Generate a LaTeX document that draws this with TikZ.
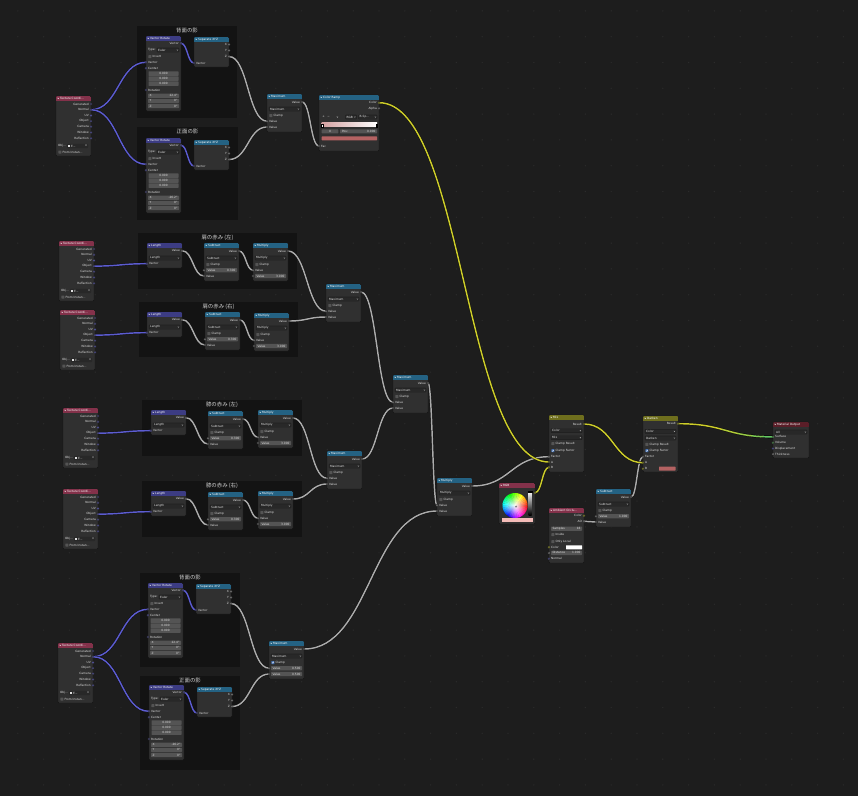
\documentclass[tikz,border=0pt]{standalone}
\usepackage{fontspec}
\setmainfont{DejaVu Sans}
\newfontfamily\jpfont{Noto Sans CJK JP}
\usetikzlibrary{calc,fadings}
\tikzfading[name=whitecentre, inner color=transparent!0, outer color=transparent!100]
\definecolor{bgc}{HTML}{1D1D1D}
\definecolor{gridc}{HTML}{2B2B2B}
\definecolor{framec}{HTML}{131313}
\definecolor{bodyc}{HTML}{303030}
\definecolor{edgec}{HTML}{141414}
\definecolor{hvec}{HTML}{3C3C83}
\definecolor{hconv}{HTML}{246283}
\definecolor{hin}{HTML}{83314A}
\definecolor{hcol}{HTML}{6E6E1D}
\definecolor{hout}{HTML}{5A1E28}
\definecolor{svec}{HTML}{6363C7}
\definecolor{sflt}{HTML}{A1A1A1}
\definecolor{scol}{HTML}{C7C729}
\definecolor{sshd}{HTML}{63C763}
\definecolor{txtc}{HTML}{E0E0E0}
\definecolor{fldc}{HTML}{545454}
\definecolor{ddc}{HTML}{282828}
\definecolor{chkon}{HTML}{4772B3}
\definecolor{lvec}{HTML}{5C5CD0}
\definecolor{lflt}{HTML}{ABABAB}
\definecolor{lcol}{HTML}{CDCD2A}
\definecolor{lshd}{HTML}{63C763}
\definecolor{rampc}{HTML}{B46262}
\definecolor{rgbsw}{HTML}{F4BCB8}
\colorlet{g1}{lcol!75!lshd}
\colorlet{g2}{lcol!50!lshd}
\colorlet{g3}{lcol!25!lshd}
\pgfdeclarelayer{frm}
\pgfdeclarelayer{lnk}
\pgfsetlayers{frm,lnk,main}
\newcounter{tn}
\tikzset{
  txt/.style={inner sep=0pt, outer sep=0pt, text=txtc, font=\fontsize{2.9}{3}\selectfont},
  nbody/.style={draw=edgec, line width=0.4pt, fill=bodyc, rounded corners=1pt, inner sep=0pt, outer sep=0pt},
  frlbl/.style={inner sep=0pt, text=black!18, font=\jpfont\fontsize{5.4}{6}\selectfont},
  link/.style={line width=1.45pt, preaction={draw=black!60!bgc, line width=2.3pt}},
}
\newcommand\tx[3][]{\stepcounter{tn}\node[txt,#1] (t\arabic{tn}) at (#2) {#3};}
\newcommand\sock[3]{\coordinate (#1) at (#2); \fill[#3, draw=black!85, line width=0.25pt] (#1) circle (1.1pt);}
\newcommand\nbox[5]{%
 \node[nbody, minimum width=#2pt, minimum height=#3pt, anchor=north west] (#1) at (0,0) {};
 \begin{scope}
  \clip[rounded corners=1pt] (0,0) rectangle (#2,#3);
  \fill[#4] (0,0) rectangle (#2,4.6);
 \end{scope}
 \draw[white, line width=0.3pt] (1.5,1.8) -- (2.3,2.7) -- (3.1,1.8);
 \tx[anchor=west,text=white]{4.2,2.35}{#5}}
\newcommand\outr[5]{\tx[anchor=east]{#2-2.2,#3}{#4}\sock{#1}{#2,#3}{#5}}
\newcommand\inr[4]{\sock{#1}{0,#2}{#4}\tx[anchor=west]{2.2,#2}{#3}}
\newcommand\ddbox[4]{% x1,x2,y,text
 \fill[ddc, draw=black!55!bodyc, line width=0.2pt, rounded corners=0.6pt] (#1,#3-2.1) rectangle (#2,#3+2.1);
 \tx[anchor=west]{#1+1.2,#3}{#4}
 \draw[txtc, line width=0.2pt] (#2-2.2,#3-0.4) -- (#2-1.6,#3+0.4) -- (#2-1,#3-0.4);}
\newcommand\dd[3]{\ddbox{2}{#2-2}{#1}{#3}}
\newcommand\fld[4]{%
 \fill[fldc, rounded corners=0.6pt] (2,#1-2.1) rectangle (#2-2,#1+2.1);
 \tx[anchor=west]{3.5,#1}{#3}
 \tx[anchor=east]{#2-3.5,#1}{#4}}
\newcommand\cfld[2]{%
 \fill[fldc, rounded corners=0.4pt] (2.5,#1-2.2) rectangle (32.5,#1+2.2);
 \tx{17.5,#1}{#2}}
\newcommand\chk[3]{%
 \ifnum#3=1
  \fill[chkon, rounded corners=0.4pt] (2.4,#1-1.5) rectangle (5.4,#1+1.5);
  \draw[white, line width=0.35pt] (3.1,#1) -- (3.7,#1+0.7) -- (4.8,#1-0.8);
 \else
  \fill[fldc, rounded corners=0.4pt] (2.4,#1-1.5) rectangle (5.4,#1+1.5);
 \fi
 \tx[anchor=west]{6.6,#1}{#2}}
\newcommand\minrow[3]{%
 \if\relax\detokenize{#3}\relax \inr{#1}{#2}{Value}{sflt}%
 \else \fld{#2}{35}{Value}{#3}\sock{#1}{0,#2}{sflt}\fi}
% node templates
\newcommand\texco[3]{\begin{scope}[shift={(#2,#3)}]
 \nbox{#1}{35}{60}{hin}{Texture Coordi...}
 \outr{#1-gen}{35}{8}{Generated}{svec}
 \outr{#1-nor}{35}{13.7}{Normal}{svec}
 \outr{#1-uv}{35}{19.4}{UV}{svec}
 \outr{#1-obj}{35}{25.1}{Object}{svec}
 \outr{#1-cam}{35}{30.8}{Camera}{svec}
 \outr{#1-win}{35}{36.5}{Window}{svec}
 \outr{#1-ref}{35}{42.2}{Reflection}{svec}
 \tx[anchor=west]{2,50}{Obj...}
 \fill[ddc, rounded corners=0.6pt] (11,47.9) rectangle (32,52.1);
 \fill[txtc] (12.3,49.1) rectangle (14.1,50.9);
 \tx[anchor=west]{15,50}{E...}
 \tx[anchor=east]{31.3,50}{×}
 \chk{56}{From Instan...}{0}
\end{scope}}
\newcommand\vrot[4]{\begin{scope}[shift={(#2,#3)}]
 \nbox{#1}{35}{75}{hvec}{Vector Rotate}
 \outr{#1-out}{35}{7.3}{Vector}{svec}
 \tx[anchor=west]{2,14}{Type:}
 \ddbox{11}{33}{14}{Euler}
 \chk{20.7}{Invert}{0}
 \inr{#1-in}{26.3}{Vector}{svec}
 \inr{#1-c}{32.3}{Center}{svec}
 \cfld{37.6}{0.000}\cfld{42.6}{0.000}\cfld{47.6}{0.000}
 \inr{#1-r}{54}{Rotation}{svec}
 \fld{59.8}{35}{X}{#4}\fld{64.9}{35}{Y}{0°}\fld{70}{35}{Z}{0°}
\end{scope}}
\newcommand\sepx[3]{\begin{scope}[shift={(#2,#3)}]
 \nbox{#1}{35}{30}{hconv}{Separate XYZ}
 \outr{#1-x}{35}{7.5}{X}{sflt}
 \outr{#1-y}{35}{13.5}{Y}{sflt}
 \outr{#1-z}{35}{19.5}{Z}{sflt}
 \inr{#1-in}{26}{Vector}{svec}
\end{scope}}
\newcommand\mathn[8]{\begin{scope}[shift={(#2,#3)}]
 \nbox{#1}{35}{38}{hconv}{#4}
 \outr{#1-out}{35}{8}{Value}{sflt}
 \dd{15}{35}{#5}
 \chk{21.5}{Clamp}{#8}
 \minrow{#1-a}{27.2}{#6}
 \minrow{#1-b}{33}{#7}
\end{scope}}
\newcommand\lenn[3]{\begin{scope}[shift={(#2,#3)}]
 \nbox{#1}{35}{25}{hvec}{Length}
 \outr{#1-out}{35}{7.7}{Value}{sflt}
 \dd{15}{35}{Length}
 \inr{#1-in}{20.7}{Vector}{svec}
\end{scope}}
\newcommand\frm[6]{\fill[framec] (#2,#3) rectangle (#4,#5);
 \node[frlbl] (#1) at ({(#2+#4)/2},#3+4.8) {#6};}
\newcommand\lnk[3]{\draw[link,#1] let \p1=(#2), \p2=(#3), \n1={0.5*abs(\x2-\x1)},
  \p3=($(\p1)+(\n1,0)$), \p4=($(\p2)+(-\n1,0)$) in (\p1) .. controls (\p3) and (\p4) .. (\p2);}
\begin{document}
\begin{tikzpicture}[x=1pt,y=-1pt]
\useasboundingbox (0,0) rectangle (858,796);
\begin{pgfonlayer}{frm}
\fill[bgc] (0,0) rectangle (858,796);
\foreach \i in {0,...,32} \foreach \j in {0,...,30}
  \fill[gridc] (17.8+\i*25.8,10.9+\j*25.8) circle (0.7pt);
\frm{f1}{137}{26}{237}{118}{背面の影}
\frm{f2}{137}{127}{238}{220}{正面の影}
\frm{f3}{138}{233}{297}{289}{肩の赤み (左)}
\frm{f4}{139}{302}{298}{357}{肩の赤み (右)}
\frm{f5}{142}{400}{302}{456}{膝の赤み (左)}
\frm{f6}{142}{481}{302}{537}{膝の赤み (右)}
\frm{f7}{140}{573}{240}{667}{背面の影}
\frm{f8}{140}{676}{240}{770}{正面の影}
\end{pgfonlayer}
% texture coordinates
\texco{tc1}{56}{96}
\texco{tc2}{59}{241}
\texco{tc3}{60}{310}
\texco{tc4}{63}{408}
\texco{tc5}{63}{489}
\texco{tc6}{58}{643}
% vector rotate / separate
\vrot{vr1}{146}{36}{22.4°}
\vrot{vr2}{146}{138}{-26.2°}
\vrot{vr7}{148}{583}{22.4°}
\vrot{vr8}{149}{685}{-26.2°}
\sepx{sx1}{194}{37}
\sepx{sx2}{194}{140}
\sepx{sx7}{196}{584}
\sepx{sx8}{197}{687}
% length / subtract / multiply
\lenn{len3}{147}{243}
\lenn{len4}{147}{312}
\lenn{len5}{151}{410}
\lenn{len6}{151}{491}
\mathn{sub3}{204}{243}{Subtract}{Subtract}{0.300}{}{0}
\mathn{sub4}{205}{312}{Subtract}{Subtract}{0.300}{}{0}
\mathn{sub5}{208}{411}{Subtract}{Subtract}{0.300}{}{0}
\mathn{sub6}{208}{492}{Subtract}{Subtract}{0.300}{}{0}
\mathn{mul3}{253}{243}{Multiply}{Multiply}{}{3.000}{0}
\mathn{mul4}{254}{313}{Multiply}{Multiply}{}{3.000}{0}
\mathn{mul5}{258}{410}{Multiply}{Multiply}{}{3.000}{0}
\mathn{mul6}{258}{491}{Multiply}{Multiply}{}{3.000}{0}
% maximum chain
\mathn{mx1}{267}{94}{Maximum}{Maximum}{}{}{0}
\mathn{mx2}{326}{284}{Maximum}{Maximum}{}{}{0}
\mathn{mx3}{393}{375}{Maximum}{Maximum}{}{}{0}
\mathn{mx4}{327}{451}{Maximum}{Maximum}{}{}{0}
\mathn{mx5}{269}{641}{Maximum}{Maximum}{0.500}{0.500}{1}
\mathn{mulc}{437}{478}{Multiply}{Multiply}{}{}{0}
\mathn{subr}{596}{489}{Subtract}{Subtract}{1.000}{}{0}
% color ramp
\begin{scope}[shift={(319,95)}]
 \nbox{cramp}{60}{56}{hconv}{Color Ramp}
 \outr{cr-col}{60}{7.7}{Color}{scol}
 \outr{cr-alp}{60}{13.2}{Alpha}{sflt}
 \tx{4.5,22}{+}
 \tx{9.5,22}{−}
 \draw[txtc, line width=0.25pt] (17.6,21.6) -- (18.3,22.4) -- (19,21.6);
 \ddbox{26.5}{37.5}{22}{RGB}
 \ddbox{39.5}{58}{22}{B-Sp...}
 \shade[left color=rampc!60!white, right color=white] (2.7,27.3) rectangle (58,31.3);
 \fill[white, draw=black, line width=0.2pt] (2.3,29.5) rectangle (3.7,32);
 \fill[white, draw=black, line width=0.2pt] (56.6,29.5) rectangle (58,32);
 \fill[fldc, rounded corners=0.5pt] (2.7,34.3) rectangle (19.3,38.3);
 \tx{11,36.3}{0}
 \fill[fldc, rounded corners=0.5pt] (21,34.3) rectangle (58,38.3);
 \tx[anchor=west]{23,36.3}{Pos:}
 \tx[anchor=east]{56.5,36.3}{0.000}
 \fill[rampc, rounded corners=0.5pt] (2.7,41.3) rectangle (58,45.3);
 \inr{cr-fac}{51}{Fac}{sflt}
\end{scope}
% RGB
\begin{scope}[shift={(499,483)}]
 \nbox{rgbn}{36}{41}{hin}{RGB}
 \sock{rgb-col}{36,9.7}{scol}
 \foreach \a in {0,10,...,350}{
   \pgfmathsetmacro\hh{mod(360-\a,360)}
   \definecolor{huec}{Hsb}{\hh,1,1}
   \fill[huec] (16,22.5) -- ++(\a:12.5) arc[start angle=\a, end angle=\a+10.6, radius=12.5] -- cycle;
 }
 \fill[white, path fading=whitecentre] (16,22.5) circle (12.5pt);
 \draw[black!60, line width=0.3pt] (17,23.5) circle (0.8pt);
 \shade[top color=white, bottom color=black] (29.5,8) rectangle (32.5,32);
 \fill[white, draw=black, line width=0.2pt] (29,8.5) rectangle (33,9.5);
 \fill[rgbsw] (2.5,34.5) rectangle (33.5,38.5);
\end{scope}
% Mix
\begin{scope}[shift={(549,415)}]
 \nbox{mixn}{35}{57}{hcol}{Mix}
 \outr{mix-res}{35}{9}{Result}{scol}
 \dd{15.7}{35}{Color}
 \dd{22.7}{35}{Mix}
 \chk{28.7}{Clamp Result}{0}
 \chk{35.7}{Clamp Factor}{1}
 \inr{mix-fac}{41.7}{Factor}{sflt}
 \inr{mix-a}{47}{A}{scol}
 \inr{mix-b}{52.3}{B}{scol}
\end{scope}
% Darken
\begin{scope}[shift={(643,416)}]
 \nbox{dkn}{35}{56}{hcol}{Darken}
 \outr{dk-res}{35}{7.7}{Result}{scol}
 \dd{15.3}{35}{Color}
 \dd{22}{35}{Darken}
 \chk{28.3}{Clamp Result}{0}
 \chk{34.7}{Clamp Factor}{1}
 \inr{dk-fac}{40.7}{Factor}{sflt}
 \inr{dk-a}{46.7}{A}{scol}
 \inr{dk-b}{52.7}{B}{scol}
 \fill[rampc, rounded corners=0.5pt] (16,50.7) rectangle (32.5,54.7);
\end{scope}
% Ambient occlusion
\begin{scope}[shift={(549,508)}]
 \nbox{aon}{35}{55}{hin}{Ambient Occlu...}
 \outr{ao-col}{35}{7.7}{Color}{scol}
 \outr{ao-ao}{35}{13.3}{AO}{sflt}
 \fld{20.7}{35}{Samples}{16}
 \chk{26.7}{Inside}{0}
 \chk{33.7}{Only Local}{0}
 \sock{ao-cin}{0,39.3}{scol}
 \tx[anchor=west]{2.2,39.3}{Color}
 \fill[white, rounded corners=0.4pt] (17,37.3) rectangle (33,41.3);
 \fld{44.9}{35}{Distance}{1.000}
 \sock{ao-dist}{0,44.9}{sflt}
 \inr{ao-nor}{50.7}{Normal}{svec}
\end{scope}
% Material output
\begin{scope}[shift={(773,422)}]
 \nbox{mato}{36}{36}{hout}{Material Output}
 \dd{10}{36}{All}
 \inr{mo-surf}{14.9}{Surface}{sshd}
 \inr{mo-vol}{20.7}{Volume}{sshd}
 \inr{mo-disp}{26.5}{Displacement}{svec}
 \inr{mo-thk}{32.1}{Thickness}{sflt}
\end{scope}
% links
\begin{pgfonlayer}{lnk}
\lnk{lvec}{tc1-nor}{vr1-in}
\lnk{lvec}{tc1-nor}{vr2-in}
\lnk{lvec}{vr1-out}{sx1-in}
\lnk{lvec}{vr2-out}{sx2-in}
\lnk{lvec}{tc2-obj}{len3-in}
\lnk{lvec}{tc3-obj}{len4-in}
\lnk{lvec}{tc4-obj}{len5-in}
\lnk{lvec}{tc5-obj}{len6-in}
\lnk{lvec}{tc6-nor}{vr7-in}
\lnk{lvec}{tc6-nor}{vr8-in}
\lnk{lvec}{vr7-out}{sx7-in}
\lnk{lvec}{vr8-out}{sx8-in}
\lnk{lflt}{sx1-z}{mx1-a}
\lnk{lflt}{sx2-z}{mx1-b}
\lnk{lflt}{mx1-out}{cr-fac}
\lnk{lflt}{len3-out}{sub3-b}
\lnk{lflt}{len4-out}{sub4-b}
\lnk{lflt}{len5-out}{sub5-b}
\lnk{lflt}{len6-out}{sub6-b}
\lnk{lflt}{sub3-out}{mul3-a}
\lnk{lflt}{sub4-out}{mul4-a}
\lnk{lflt}{sub5-out}{mul5-a}
\lnk{lflt}{sub6-out}{mul6-a}
\lnk{lflt}{mul3-out}{mx2-a}
\lnk{lflt}{mul4-out}{mx2-b}
\lnk{lflt}{mul5-out}{mx4-a}
\lnk{lflt}{mul6-out}{mx4-b}
\lnk{lflt}{mx2-out}{mx3-a}
\lnk{lflt}{mx4-out}{mx3-b}
\lnk{lflt}{mx3-out}{mulc-a}
\lnk{lflt}{sx7-z}{mx5-a}
\lnk{lflt}{sx8-z}{mx5-b}
\lnk{lflt}{mx5-out}{mulc-b}
\lnk{lflt}{mulc-out}{mix-fac}
\lnk{lflt}{ao-ao}{subr-b}
\lnk{lflt}{subr-out}{dk-fac}
\lnk{lcol}{cr-col}{mix-a}
\lnk{lcol}{rgb-col}{mix-b}
\lnk{lcol}{mix-res}{dk-a}
\lnk{lcol}{dk-res}{mo-surf}
\foreach \xa/\cc in {722/g1,738/g2,752/g3,763/lshd}{
 \begin{scope}
  \clip (\xa,400) rectangle (790,460);
  \lnk{\cc}{dk-res}{mo-surf}
 \end{scope}}
\end{pgfonlayer}
\end{tikzpicture}
\end{document}
